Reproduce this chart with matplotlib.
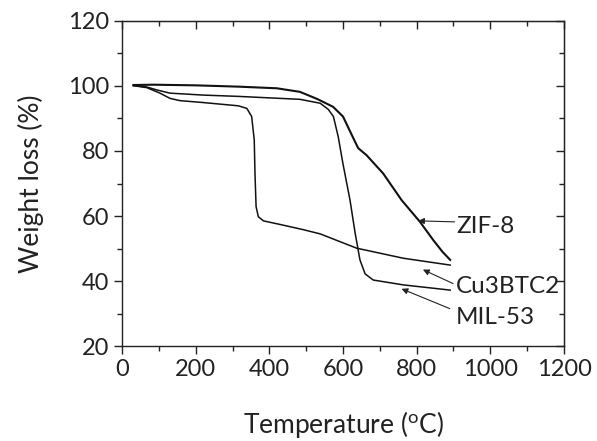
import numpy as np
import matplotlib
matplotlib.use('Agg')
import matplotlib.pyplot as plt
from matplotlib.ticker import MultipleLocator

plt.rcParams['font.family'] = ['Lato', 'DejaVu Sans']

# TGA curves: temperature (C), weight (%)
zif8_t = [31, 85, 200, 316, 420, 483, 530, 573, 600, 624, 641, 664, 709, 759, 809, 845, 870, 891]
zif8_w = [100.3, 100.4, 100.2, 99.8, 99.3, 98.2, 96.0, 93.6, 90.6, 84.9, 80.9, 78.7, 73.1, 64.9, 58.2, 52.6, 49.0, 46.5]

cu_t = [31, 67, 103, 130, 157, 221, 316, 339, 352, 359, 361, 364, 370, 384, 429, 492, 538, 637, 764, 891]
cu_w = [100.1, 99.5, 97.8, 96.2, 95.5, 94.9, 93.9, 93.1, 90.6, 83.4, 73.1, 62.9, 59.8, 58.5, 57.4, 55.8, 54.5, 50.1, 47.0, 44.9]

mil_t = [31, 67, 94, 130, 221, 316, 483, 538, 560, 574, 587, 600, 619, 633, 646, 660, 682, 764, 891]
mil_w = [100.1, 99.7, 98.8, 97.8, 97.2, 96.8, 95.9, 94.7, 92.8, 90.6, 84.4, 76.0, 64.9, 54.7, 46.5, 42.2, 40.3, 38.8, 37.2]

labels = ['ZIF-8', 'Cu3BTC2', 'MIL-53']
text_xy = [(908, 56.7), (906, 38.4), (906, 28.9)]
tail_xy = [(903, 58.2), (899, 39.2), (890, 31.5)]
head_xy = [(804, 58.5), (817, 43.5), (759, 37.6)]

fig = plt.figure(figsize=(5.97, 4.41), dpi=100)
ax = fig.add_axes([0.2044, 0.2154, 0.7403, 0.737])

ax.plot(zif8_t, zif8_w, color='#111111', lw=1.5)
ax.plot(cu_t, cu_w, color='#111111', lw=1.1)
ax.plot(mil_t, mil_w, color='#111111', lw=1.1)

for lab, txy, tail, head in zip(labels, text_xy, tail_xy, head_xy):
    ax.text(txy[0], txy[1], lab, fontsize=17.5, va='center', ha='left', color='#222222')
    ax.annotate('', xy=head, xytext=tail,
                arrowprops=dict(arrowstyle='-|>', color='#222222', lw=0.8,
                                mutation_scale=9, shrinkA=0, shrinkB=0))

ax.set_xlim(0, 1200)
ax.set_ylim(20, 120)
ax.xaxis.set_major_locator(MultipleLocator(200))
ax.xaxis.set_minor_locator(MultipleLocator(100))
ax.yaxis.set_major_locator(MultipleLocator(20))
ax.yaxis.set_minor_locator(MultipleLocator(10))
ax.tick_params(which='both', direction='out', top=False, right=False, labelsize=17, colors='#222222')
ax.tick_params(which='major', length=6, width=1)
ax.tick_params(which='minor', length=3.5, width=1)

# mirrored inward ticks on top and right
for spine in ax.spines.values():
    spine.set_linewidth(1)
    spine.set_color('#222222')
sec_x = ax.secondary_xaxis('top')
sec_x.xaxis.set_major_locator(MultipleLocator(200))
sec_x.xaxis.set_minor_locator(MultipleLocator(100))
sec_x.tick_params(which='both', direction='in', labeltop=False, colors='#222222')
sec_x.tick_params(which='major', length=6, width=1)
sec_x.tick_params(which='minor', length=3.5, width=1)
sec_y = ax.secondary_yaxis('right')
sec_y.yaxis.set_major_locator(MultipleLocator(20))
sec_y.yaxis.set_minor_locator(MultipleLocator(10))
sec_y.tick_params(which='both', direction='in', labelright=False, colors='#222222')
sec_y.tick_params(which='major', length=6, width=1)
sec_y.tick_params(which='minor', length=3.5, width=1)

ax.set_xlabel('Temperature ($\\mathregular{^o}$C)', fontsize=19, color='#222222', labelpad=21)
ax.set_ylabel('Weight loss (%)', fontsize=19, color='#222222', labelpad=17)

fig.savefig('out.png', dpi=100)
